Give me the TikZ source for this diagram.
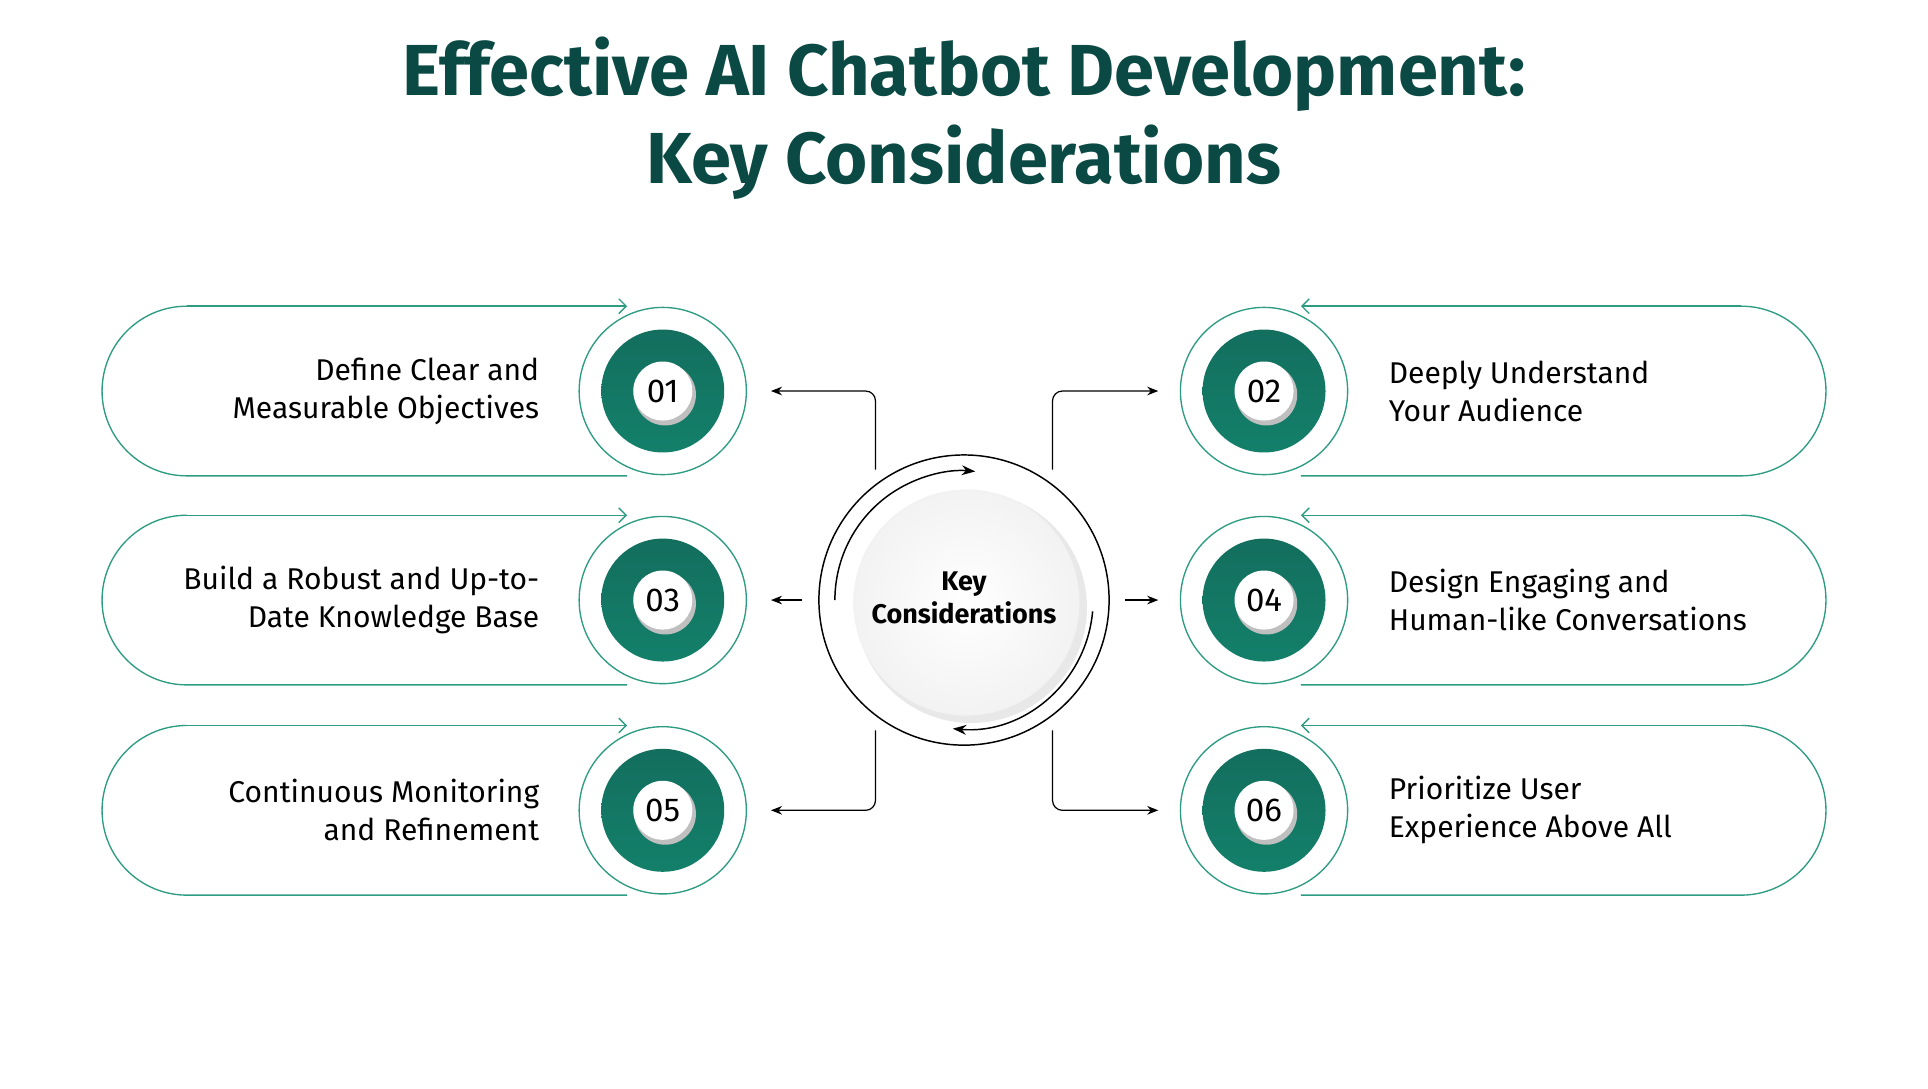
\documentclass[tikz,border=0pt]{standalone}
\usepackage{fontspec}
\setmainfont{Fira Sans}
\usetikzlibrary{arrows.meta,calc}
\definecolor{ttl}{HTML}{0B4A44}
\definecolor{tdisk}{HTML}{13806A}
\definecolor{tdark}{HTML}{136E5E}
\definecolor{tline}{HTML}{2E9C82}
\tikzset{
  pill/.style={draw=tline,line width=1.1bp},
  ring/.style={circle,draw=tline,line width=1.1bp,minimum size=136bp,inner sep=0},
  disk/.style={circle,top color=tdark,bottom color=tdisk,minimum size=100bp,inner sep=0},
  numb/.style={circle,fill=white,minimum size=48bp,inner sep=0,font=\fontsize{27}{30}\selectfont},
  lbl/.style={font=\fontsize{24.5}{31}\selectfont,align=left},
  lblr/.style={font=\fontsize{24.5}{31}\selectfont,align=right},
  conn/.style={draw=black,line width=1bp,-{Stealth[length=9bp,width=7bp]},rounded corners=8bp},
  opentip/.style={-{Straight Barb[length=6bp,width=12bp]}},
  cyc/.style={line width=1.2bp,-{Stealth[length=11bp,width=8bp]}}
}
\begin{document}
\begin{tikzpicture}[x=1bp,y=-1bp]
\useasboundingbox (0,0) rectangle (1568,885);
\fill[white] (0,0) rectangle (1568,885);
\node[font=\bfseries\fontsize{59}{72}\selectfont,text=ttl,align=center] (title) at (784,96)
  {Effective AI Chatbot Development:\\Key Considerations};
% left rows
\foreach \y/\n/\t [count=\i] in {318/01/{Define Clear and\\Measurable Objectives},488/03/{Build a Robust and Up-to-\\Date Knowledge Base},659/05/{Continuous Monitoring\\and Refinement}}{
  \draw[pill] (510,\y+69) -- (152,\y+69) arc[start angle=90,end angle=270,radius=69];
  \draw[pill,opentip] (152,\y-69) -- (510,\y-69);
  \node[ring] (L\i) at (539,\y) {};
  \node[disk] (LD\i) at (539,\y) {};
  \fill[black!25] (541,\y+3) circle[radius=25];
  \node[numb] (LN\i) at (539,\y) {\n};
  \node[lblr,anchor=east] (LT\i) at (442,\y) {\t};
}
% right rows
\foreach \y/\n/\t [count=\i] in {318/02/{Deeply Understand\\Your Audience},488/04/{Design Engaging and\\Human-like Conversations},659/06/{Prioritize User\\Experience Above All}}{
  \draw[pill] (1058,\y+69) -- (1416,\y+69) arc[start angle=90,end angle=-90,radius=69];
  \draw[pill,opentip] (1416,\y-69) -- (1058,\y-69);
  \node[ring] (R\i) at (1028,\y) {};
  \node[disk] (RD\i) at (1028,\y) {};
  \fill[black!25] (1030,\y+3) circle[radius=25];
  \node[numb] (RN\i) at (1028,\y) {\n};
  \node[lbl,anchor=west] (RT\i) at (1126,\y) {\t};
}
% center
\node[circle,draw=black,line width=1.2bp,minimum size=236bp,inner sep=0] (C) at (784,488) {};
\fill[black!9] (790,494) circle[radius=94];
\shade[inner color=white,outer color=black!5] (786,490) circle[radius=92];
\node[font=\bfseries\fontsize{22}{27}\selectfont,align=center] (CT) at (784,486) {Key\\Considerations};
\draw[cyc] (784,488) ++(180:105) arc[start angle=180,end angle=275,radius=105];
\draw[cyc] (784,488) ++(5:105) arc[start angle=5,end angle=95,radius=105];
\coordinate (a1) at (712,382); \coordinate (a2) at (856,382);
\coordinate (a3) at (712,594); \coordinate (a4) at (856,594);
\coordinate (m1) at (652,488); \coordinate (m2) at (915,488);
\draw[conn] (a1) |- (627,318);
\draw[conn] (a2) |- (942,318);
\draw[conn] (a3) |- (627,659);
\draw[conn] (a4) |- (942,659);
\draw[conn] (m1) -- (627,488);
\draw[conn] (m2) -- (942,488);
\end{tikzpicture}
\end{document}
